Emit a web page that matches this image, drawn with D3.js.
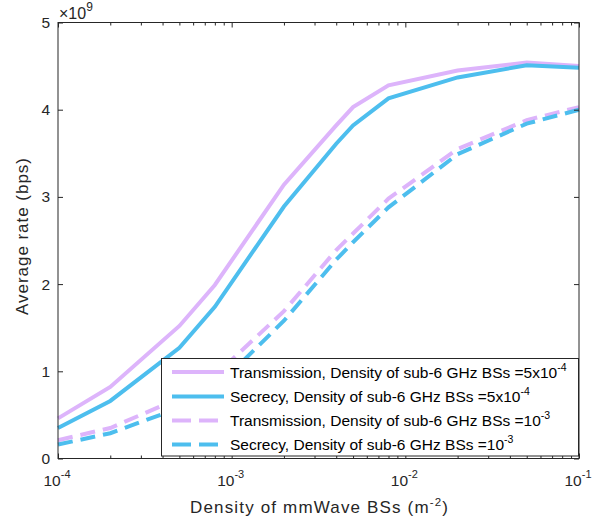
<!DOCTYPE html>
<html><head><meta charset="utf-8">
<script src="https://cdn.jsdelivr.net/npm/d3@7"></script>
<style>body{margin:0;background:#fff}svg{display:block;font-family:"Liberation Sans",Arial,sans-serif}</style>
</head><body><svg id="c" width="611" height="520"></svg>
<script>
const xValues = [1e-4, 2e-4, 5e-4, 8e-4, 2e-3, 4e-3, 5e-3, 8e-3, 2e-2, 5e-2, 1e-1];
const transHigh = [0.46, 0.82, 1.52, 1.99, 3.14, 3.82, 4.03, 4.28, 4.45, 4.54, 4.50];
const secHigh   = [0.35, 0.66, 1.27, 1.74, 2.89, 3.61, 3.82, 4.13, 4.37, 4.51, 4.48];
const transLow  = [0.21, 0.35, 0.69, 0.95, 1.69, 2.39, 2.58, 2.98, 3.55, 3.88, 4.03];
const secLow    = [0.16, 0.29, 0.58, 0.80, 1.58, 2.28, 2.48, 2.88, 3.49, 3.84, 4.00];
const xTickValues = [1e-4, 1e-3, 1e-2, 1e-1];
const xTickExp = ["-4", "-3", "-2", "-1"];
const yTickValues = [0, 1, 2, 3, 4, 5];
const legendMain = ["Transmission, Density of sub-6 GHz BSs =5x10", "Secrecy, Density of sub-6 GHz BSs =5x10",
                    "Transmission, Density of sub-6 GHz BSs =10", "Secrecy, Density of sub-6 GHz BSs =10"];
const legendExp = ["-4", "-4", "-3", "-3"];

const colTrans = "#ddb4fb", colSec = "#4dbeee", ink = "#262626";
const svg = d3.select("#c");
const L = 58, R = 579, T = 22.5, B = 458.5;
const x = d3.scaleLog().domain([1e-4, 1e-1]).range([L, R]);
const y = d3.scaleLinear().domain([0, 5]).range([B, T]);

const series = [
  {v: transHigh, c: colTrans, dash: null},
  {v: secHigh, c: colSec, dash: null},
  {v: transLow, c: colTrans, dash: "15,8"},
  {v: secLow, c: colSec, dash: "15,8"}
];
const line = d3.line().x(d => x(d[0])).y(d => y(d[1]));
const g = svg.append("g");
series.forEach(s => {
  g.append("path").datum(xValues.map((xv, i) => [xv, s.v[i]]))
    .attr("d", line).attr("fill", "none").attr("stroke", s.c)
    .attr("stroke-width", 4).attr("stroke-dasharray", s.dash);
});

const minor = [];
for (let e = -4; e < -1; e++) for (let m = 2; m <= 9; m++) minor.push(m * Math.pow(10, e));

function styleAxis(sel) {
  sel.select(".domain").remove();
  sel.selectAll("line").attr("stroke", ink);
  sel.selectAll("text").remove();
}
svg.append("g").attr("transform", `translate(0,${B})`).call(d3.axisBottom(x).tickValues(xTickValues).tickSize(-5)).call(styleAxis);
svg.append("g").attr("transform", `translate(0,${B})`).call(d3.axisBottom(x).tickValues(minor).tickSize(-3)).call(styleAxis);
svg.append("g").attr("transform", `translate(0,${T})`).call(d3.axisTop(x).tickValues(xTickValues).tickSize(-5)).call(styleAxis);
svg.append("g").attr("transform", `translate(0,${T})`).call(d3.axisTop(x).tickValues(minor).tickSize(-3)).call(styleAxis);
svg.append("g").attr("transform", `translate(${L},0)`).call(d3.axisLeft(y).tickValues(yTickValues).tickSize(-5)).call(styleAxis);
svg.append("g").attr("transform", `translate(${R},0)`).call(d3.axisRight(y).tickValues(yTickValues).tickSize(-5)).call(styleAxis);

svg.append("rect").attr("x", L).attr("y", T).attr("width", R - L).attr("height", B - T)
  .attr("fill", "none").attr("stroke", ink).attr("stroke-width", 1);

svg.append("g").selectAll("text").data(yTickValues).join("text")
  .attr("x", L - 8).attr("y", d => y(d) + 5.5).attr("text-anchor", "end")
  .attr("font-size", 15.5).attr("fill", ink).text(d => d);

xTickValues.forEach((v, i) => {
  const t = svg.append("text").attr("x", x(v) - 1).attr("y", 486).attr("text-anchor", "middle")
    .attr("font-size", 15.5).attr("fill", ink);
  t.append("tspan").text("10");
  t.append("tspan").attr("dy", -8).attr("font-size", 11).text(xTickExp[i]);
});

const ex = svg.append("text").attr("x", 59).attr("y", 19).attr("font-size", 16).attr("fill", ink);
ex.append("tspan").text("\u00d710");
ex.append("tspan").attr("dy", -8).attr("font-size", 12).text("9");

const xl = svg.append("text").attr("x", 319).attr("y", 513).attr("text-anchor", "middle")
  .attr("font-size", 17).attr("fill", ink).attr("textLength", 258).attr("lengthAdjust", "spacing");
xl.append("tspan").text("Density of mmWave BSs (m");
xl.append("tspan").attr("dy", -7).attr("font-size", 11.5).text("-2");
xl.append("tspan").attr("dy", 7).text(")");

svg.append("text").attr("transform", `translate(27.7,236.5) rotate(-90)`)
  .attr("text-anchor", "middle").attr("font-size", 17).attr("fill", ink)
  .attr("textLength", 157).attr("lengthAdjust", "spacing").text("Average rate (bps)");

const lg = svg.append("g");
lg.append("rect").attr("x", 161.5).attr("y", 358.5).attr("width", 417).attr("height", 97.5)
  .attr("fill", "#fff").attr("stroke", ink).attr("stroke-width", 1);
const rowY = [372, 396.5, 420.5, 444.5];
series.forEach((s, i) => {
  lg.append("line").attr("x1", 172).attr("x2", 224).attr("y1", rowY[i]).attr("y2", rowY[i])
    .attr("stroke", s.c).attr("stroke-width", 4).attr("stroke-dasharray", s.dash ? "19,8" : null);
  const t = lg.append("text").attr("x", 230).attr("y", rowY[i] + 5.5).attr("font-size", 15.5).attr("fill", "#000");
  t.append("tspan").text(legendMain[i]);
  t.append("tspan").attr("dy", -7).attr("font-size", 10.5).text(legendExp[i]);
});
</script></body></html>
